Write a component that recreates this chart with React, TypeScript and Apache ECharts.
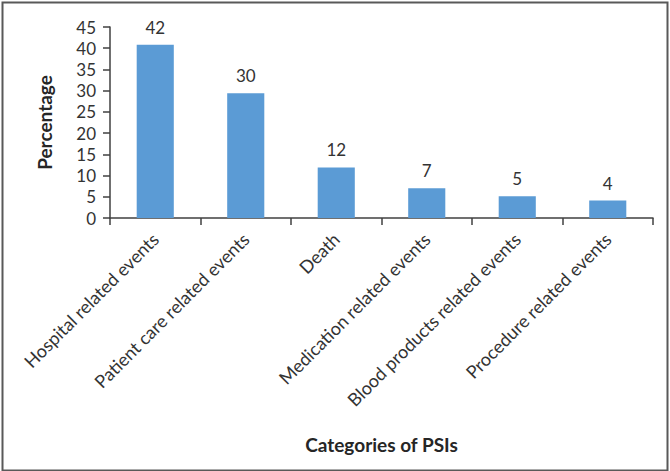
import React, { useEffect, useRef } from "react";
import * as echarts from "echarts";

const categories = [
  "Hospital related events",
  "Patient care related events",
  "Death",
  "Medication related events",
  "Blood products related events",
  "Procedure related events",
];
const barValues = [40.8, 29.4, 11.9, 7.0, 5.1, 4.1];
const barLabels = ["42", "30", "12", "7", "5", "4"];
const yTicks = { min: 0, max: 45, interval: 5 };

export default function App() {
  const ref = useRef<HTMLDivElement>(null);
  useEffect(() => {
    document.body.style.margin = "0";
    if (!ref.current) return;
    const chart = echarts.init(ref.current, null, { renderer: "svg" });
    const font = "Lato, 'Open Sans', sans-serif";
    chart.setOption({
      animation: false,
      backgroundColor: "#ffffff",
      textStyle: { fontFamily: font },
      grid: { left: 110, right: 17, top: 27, bottom: 253, containLabel: false },
      xAxis: {
        type: "category",
        data: categories,
        name: "Categories of PSIs",
        nameLocation: "middle",
        nameGap: 217,
        nameTextStyle: { fontSize: 19, fontWeight: "bold", color: "#262626", fontFamily: font },
        axisLine: { lineStyle: { color: "#404040", width: 1.5 } },
        axisTick: { show: true, length: 7, lineStyle: { color: "#404040", width: 1.5 } },
        axisLabel: { rotate: 45, fontSize: 18, color: "#333333", margin: 18, interval: 0, fontFamily: font },
        splitLine: { show: false },
      },
      yAxis: {
        type: "value",
        min: yTicks.min,
        max: yTicks.max,
        interval: yTicks.interval,
        name: "Percentage",
        nameLocation: "middle",
        nameGap: 56,
        nameTextStyle: { fontSize: 19, fontWeight: "bold", color: "#262626", fontFamily: font },
        axisLine: { show: true, lineStyle: { color: "#404040", width: 1.5 } },
        axisTick: { show: true, length: 7, lineStyle: { color: "#404040", width: 1.5 } },
        axisLabel: { fontSize: 17, color: "#333333", margin: 14, fontFamily: font },
        splitLine: { show: false },
      },
      series: [
        {
          type: "bar",
          data: barValues,
          barWidth: "41%",
          itemStyle: { color: "#5B9BD5" },
          label: {
            show: true,
            position: "top",
            distance: 9,
            fontSize: 17,
            color: "#333333",
            fontFamily: font,
            formatter: (p: any) => barLabels[p.dataIndex],
          },
        },
      ],
      graphic: [
        {
          type: "rect",
          left: 0,
          top: 0,
          shape: { x: 1, y: 1, width: 665, height: 468 },
          style: { fill: "none", stroke: "#595959", lineWidth: 2 },
          silent: true,
        },
      ],
    });
    return () => chart.dispose();
  }, []);
  return <div ref={ref} style={{ width: 670, height: 471 }} />;
}
